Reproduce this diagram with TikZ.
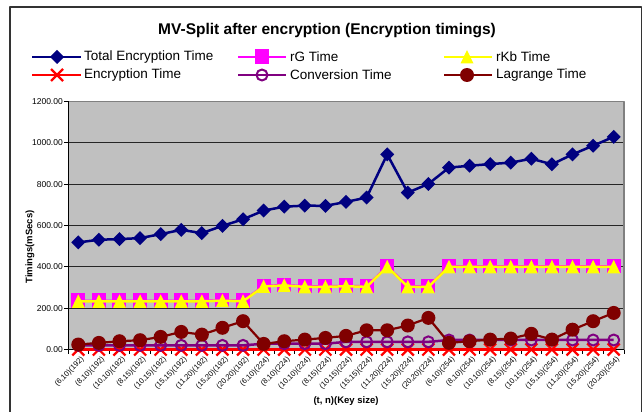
\documentclass[tikz,border=0pt]{standalone}
\usepackage{fontspec}
\setmainfont{Liberation Sans}
\definecolor{navyc}{HTML}{000080}
\definecolor{magc}{HTML}{FF00FF}
\definecolor{yelc}{HTML}{FFFF00}
\definecolor{redc}{HTML}{FF0000}
\definecolor{purpc}{HTML}{800080}
\definecolor{dredc}{HTML}{800000}
\definecolor{plotbg}{HTML}{C0C0C0}
\definecolor{plotedge}{HTML}{808080}
\newcommand\defseries[2]{\foreach \v [count=\i from 0] in {#2} {\coordinate (#1\i) at ({68+20.593*(\i+0.5)},{349.5-0.2067*\v});}}
\tikzset{
  diam/.pic={\fill[navyc] (0,-7) -- (7,0) -- (0,7) -- (-7,0) -- cycle;},
  sqm/.pic={\fill[magc] (-7,-7.5) rectangle (7,7);},
  trim/.pic={\fill[yelc] (-6.5,6.5) -- (6.5,6.5) -- (0,-7) -- cycle;},
  xm/.pic={\draw[redc,line width=2.2] (-6,-6) -- (6,6) (-6,6) -- (6,-6);},
  ocirc/.pic={\draw[purpc,line width=2] (0,0) circle (5.5);},
  fcirc/.pic={\fill[dredc] (0,0) circle (7);},
  legtext/.style={anchor=west,inner sep=0pt,font=\fontsize{13.5}{15}\selectfont},
  ytl/.style={anchor=east,inner sep=0pt,font=\fontsize{8.5}{10}\selectfont},
  xtl/.style={anchor=north east,inner sep=0pt,rotate=45,font=\fontsize{7.6}{8}\selectfont},
  axtitle/.style={inner sep=0pt,font=\fontsize{9.5}{11}\selectfont\bfseries},
}
\begin{document}
\begin{tikzpicture}[x=1pt,y=-1pt,line join=round]
\useasboundingbox (0,0) rectangle (643,412);
\fill[white] (0,0) rectangle (643,412);
\draw[black!80,line width=1.2] (10,7) rectangle (641.5,430);
% title
\node[inner sep=0pt,font=\fontsize{15.5}{18}\selectfont\bfseries] (title) at (327,31) {MV-Split after encryption (Encryption timings)};
% legend
\draw[navyc,line width=2.5] (32,57) -- (81,57); \pic at (57,57) {diam};
\node[legtext] (l1) at (84,57) {Total Encryption Time};
\draw[magc,line width=2.5] (238,57) -- (286,57); \pic at (262,57) {sqm};
\node[legtext] (l2) at (290,57) {rG Time};
\draw[yelc,line width=2.5] (444,57) -- (492,57); \pic at (467,57) {trim};
\node[legtext] (l3) at (496,57) {rKb Time};
\draw[redc,line width=2.5] (32,75) -- (81,75); \pic at (57,75) {xm};
\node[legtext] (l4) at (84,75) {Encryption Time};
\draw[purpc,line width=2.5] (238,75) -- (286,75); \pic at (262,75) {ocirc};
\node[legtext] (l5) at (290,75) {Conversion Time};
\draw[dredc,line width=2.5] (444,75) -- (492,75); \pic at (467,75) {fcirc};
\node[legtext] (l6) at (496,75) {Lagrange Time};
% plot area
\fill[plotbg] (68,101.4) rectangle (624,349.5);
\foreach \v in {200,400,...,1000} \draw[black!85,line width=0.9] (68,{349.5-0.2067*\v}) -- (624,{349.5-0.2067*\v});
\draw[plotedge,line width=1.6] (68,101.4) -- (624,101.4) -- (624,349.5);
\draw[black,line width=1] (68,101.4) -- (68,349.5) -- (624,349.5);
\foreach \v/\t in {0/0.00,200/200.00,400/400.00,600/600.00,800/800.00,1000/1000.00,1200/1200.00}{
  \draw[black,line width=0.8] (64,{349.5-0.2067*\v}) -- (68,{349.5-0.2067*\v});
  \node[ytl] at (63,{349.5-0.2067*\v}) {\t};
}
\foreach \k in {0,...,27} \draw[black,line width=0.8] ({68+20.593*\k},349.5) -- ++(0,4);
\foreach \t [count=\i from 0] in {(6,10)(192),(8,10)(192),(10,10)(192),(8,15)(192),(10,15)(192),(15,15)(192),(11,20)(192),(15,20)(192),(20,20)(192),(6,10)(224),(8,10)(224),(10,10)(224),(8,15)(224),(10,15)(224),(15,15)(224),(11,20)(224),(15,20)(224),(20,20)(224),(6,10)(254),(8,10)(254),(10,10)(254),(8,15)(254),(10,15)(254),(15,15)(254),(11,20)(254),(15,20)(254),(20,20)(254)}
  \node[xtl] at ({68+20.593*(\i+0.5)+2},356) {\t};
\node[axtitle,rotate=90] (ylab) at (30,247) {Timings(mSecs)};
\node[axtitle] (xlab) at (346,401) {(t, n)(Key size)};
% data
\defseries{T}{518,531,534,539,558,579,563,598,630,672,691,696,695,714,735,944,759,801,880,889,897,904,923,896,944,986,1029}
\defseries{G}{235,235,235,235,235,235,235,238,235,307,312,305,305,308,305,402,305,305,402,402,402,402,402,402,402,402,402}
\defseries{K}{233,233,233,233,233,233,233,236,233,305,310,303,303,306,303,400,303,303,400,400,400,400,400,400,400,400,400}
\defseries{E}{0,0,0,0,0,0,0,0,0,0,0,0,0,0,0,0,0,0,0,0,0,0,0,0,0,0,0}
\defseries{C}{20,20,20,20,20,20,20,20,20,28,28,28,28,37,37,37,37,37,46,46,46,46,46,46,46,46,46}
\defseries{L}{24,32,40,45,61,85,72,105,137,27,40,48,56,66,93,93,116,153,32,40,48,53,76,48,96,137,177}
% total
\draw[navyc,line width=2.5] (T0) \foreach \i in {1,...,26} {-- (T\i)};
\foreach \i in {0,...,26} \pic at (T\i) {diam};
% rG
\draw[magc,line width=2.5] (G0) \foreach \i in {1,...,26} {-- (G\i)};
\foreach \i in {0,...,26} \pic at (G\i) {sqm};
% rKb
\draw[yelc,line width=2.5] (K0) \foreach \i in {1,...,26} {-- (K\i)};
\foreach \i in {0,...,26} \pic at (K\i) {trim};
% encryption
\draw[redc,line width=2.8] (E0) \foreach \i in {1,...,26} {-- (E\i)};
\foreach \i in {0,...,26} \pic at (E\i) {xm};
% conversion
\draw[purpc,line width=2.5] (C0) \foreach \i in {1,...,26} {-- (C\i)};
\foreach \i in {0,...,26} \pic at (C\i) {ocirc};
% lagrange
\draw[dredc,line width=2.2] (L0) \foreach \i in {1,...,26} {-- (L\i)};
\foreach \i in {0,...,26} \pic at (L\i) {fcirc};
\end{tikzpicture}
\end{document}
